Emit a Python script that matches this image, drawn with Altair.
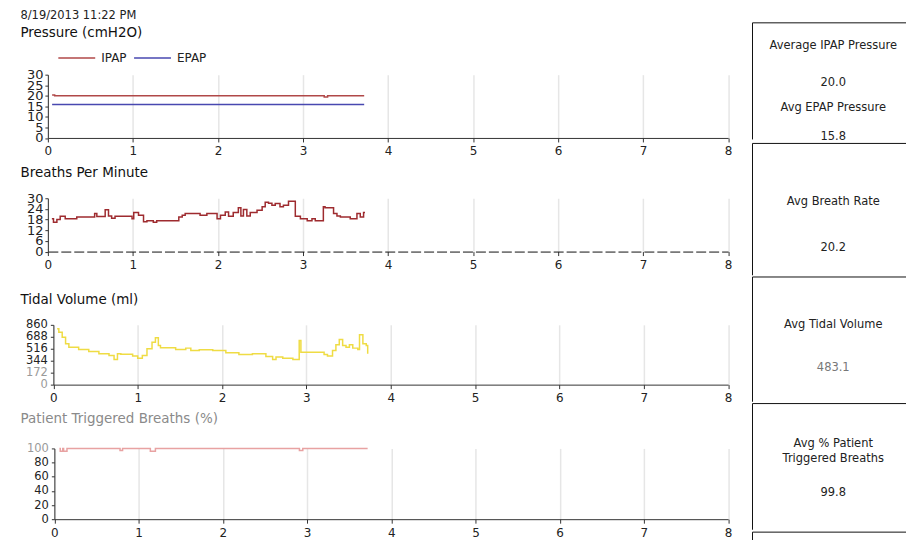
import altair as alt
import pandas as pd

FONT = "DejaVu Sans"

date_text = "8/19/2013 11:22 PM"
x_ticks = [0, 1, 2, 3, 4, 5, 6, 7, 8]

# Pressure (cmH2O)
ipap_t = [0.05, 0.08, 3.25, 3.29, 3.72]
ipap_v = [20.4, 20.0, 19.4, 20.0, 20.0]
epap_t = [0.05, 3.72]
epap_v = [15.8, 15.8]
pressure_ticks = [0, 5, 10, 15, 20, 25, 30]
series_names = ["IPAP", "EPAP"]

# Breaths per minute
breath_t = [0.047, 0.066, 0.106, 0.145, 0.204, 0.34, 0.55, 0.576, 0.674, 0.713,
            0.75, 0.79, 0.99, 1.01, 1.066, 1.125, 1.165, 1.24, 1.28, 1.54,
            1.58, 1.615, 1.79, 1.87, 1.99, 2.03, 2.086, 2.125, 2.18, 2.24,
            2.27, 2.30, 2.34, 2.38, 2.46, 2.52, 2.556, 2.595, 2.635, 2.674,
            2.73, 2.77, 2.83, 2.91, 2.97, 3.05, 3.106, 3.145, 3.24, 3.26,
            3.36, 3.40, 3.44, 3.556, 3.635, 3.674, 3.713, 3.73]
breath_v = [18.4, 16.5, 18.0, 19.9, 18.4, 19.5, 21.4, 19.8, 23.5, 20.0,
            18.7, 19.9, 18.4, 22.0, 20.5, 16.8, 17.4, 16.5, 17.4, 19.5,
            20.5, 21.4, 20.5, 21.4, 18.4, 20.5, 22.2, 19.9, 22.0, 24.6,
            20.0, 23.7, 20.0, 22.0, 23.3, 25.2, 27.8, 27.2, 26.0, 27.0,
            25.2, 26.0, 28.3, 19.9, 18.4, 17.4, 18.4, 17.4, 25.2, 24.6,
            21.4, 20.0, 19.5, 18.4, 21.4, 19.5, 22.0, 22.0]
breath_ticks = [0, 6, 12, 18, 24, 30]

# Tidal volume (ml)
tidal_t = [0.045, 0.065, 0.105, 0.145, 0.184, 0.30, 0.42, 0.54, 0.66, 0.72,
           0.76, 0.80, 0.94, 1.0, 1.055, 1.11, 1.17, 1.21, 1.245, 1.27,
           1.45, 1.57, 1.63, 1.73, 1.89, 2.045, 2.20, 2.36, 2.52, 2.60,
           2.64, 2.72, 2.84, 2.915, 2.935, 3.21, 3.25, 3.31, 3.35, 3.39,
           3.43, 3.47, 3.51, 3.55, 3.61, 3.63, 3.67, 3.71, 3.727]
tidal_v = [802, 754, 682, 587, 539, 506, 477, 444, 420, 363,
           444, 438, 410, 381, 420, 516, 611, 673, 563, 530,
           506, 525, 492, 500, 492, 458, 434, 444, 405, 363,
           398, 381, 363, 635, 467, 434, 410, 492, 573, 649,
           563, 539, 573, 525, 506, 716, 587, 563, 444]
tidal_ticks = [0, 172, 344, 516, 688, 860]

# Patient triggered breaths (%)
trig_t = [0.06, 0.07, 0.10, 0.11, 0.15, 0.78, 0.81, 1.14, 1.20, 2.91, 2.95, 3.72]
trig_v = [100, 96, 100, 96, 100, 97, 100, 96, 100, 97, 100, 100]
trig_ticks = [0, 20, 40, 60, 80, 100]

# Summary panel
summary_labels = [["Average IPAP Pressure", "Avg EPAP Pressure"],
                  ["Avg Breath Rate"],
                  ["Avg Tidal Volume"],
                  ["Avg % Patient", "Triggered Breaths"]]
summary_values = [["20.0", "15.8"], ["20.2"], ["483.1"], ["99.8"]]

AXIS_C = "#333333"
LABEL_C = "#222222"
PLOT_W = 682.5
TITLE_DX = -27.5


def xaxis(dash=None, color=AXIS_C):
    kw = dict(values=x_ticks, grid=True, gridColor="#e6e6e6", gridWidth=1.5,
              tickSize=4, tickColor=AXIS_C, domainColor=color, domainWidth=1,
              labelFontSize=12, labelColor=LABEL_C, labelPadding=4,
              labelFlush=False, labelFont=FONT, title=None)
    if dash:
        kw["domainDash"] = dash
    return alt.Axis(**kw)


def yaxis(vals, fs, pad=2, gray_test=None, offset=0):
    color = LABEL_C
    if gray_test:
        color = {"condition": {"test": gray_test, "value": "#9a9a9a"}, "value": LABEL_C}
    return alt.Axis(values=vals, grid=False, tickSize=3, tickColor=AXIS_C,
                    domainColor=AXIS_C, labelFontSize=fs, labelColor=color,
                    labelPadding=pad, labelOverlap=False, labelFont=FONT, title=None,
                    offset=offset)


def xscale(inset=0):
    return alt.Scale(domain=[0, 8], nice=False, range=[inset, PLOT_W])


def title(text, offset, color="#111111", **kw):
    return alt.TitleParams(text=text, anchor="start", frame="group", dx=TITLE_DX,
                           fontSize=13.5, fontWeight="normal", color=color, font=FONT,
                           offset=offset, **kw)


# ---- Date header
header = alt.Chart(pd.DataFrame({"t": [date_text]})).mark_text(
    align="left", baseline="top", fontSize=11.5, font=FONT, color=LABEL_C
).encode(text="t:N", x=alt.value(TITLE_DX), y=alt.value(0)).properties(width=PLOT_W, height=7.3)

# ---- Pressure
pdf = pd.DataFrame({
    "h": ipap_t + epap_t,
    "v": ipap_v + epap_v,
    "s": [series_names[0]] * len(ipap_t) + [series_names[1]] * len(epap_t),
})
p1 = alt.Chart(pdf).mark_line(strokeWidth=1.5, interpolate="step-after").encode(
    x=alt.X("h:Q", scale=xscale(), axis=xaxis()),
    y=alt.Y("v:Q", scale=alt.Scale(domain=[0, 30], nice=False), axis=yaxis(pressure_ticks, 13)),
    color=alt.Color("s:N", scale=alt.Scale(domain=series_names, range=["#b04848", "#4848b0"]),
                    legend=alt.Legend(title=None, orient="none", legendX=9.5, legendY=28.5,
                                      direction="horizontal", symbolType="stroke",
                                      symbolSize=1369, symbolStrokeWidth=1.5,
                                      labelFontSize=12, labelFont=FONT, labelColor=LABEL_C,
                                      labelOffset=5, columnPadding=4, padding=0)),
).properties(width=PLOT_W, height=63.5, title=title("Pressure (cmH2O)", 29.5))

# ---- Breaths
bdf = pd.DataFrame({"h": breath_t, "v": breath_v})
p2 = alt.Chart(bdf).mark_line(strokeWidth=1.5, interpolate="step-after", color="#9e2b2f").encode(
    x=alt.X("h:Q", scale=xscale(), axis=xaxis(dash=[10, 3], color="#111111")),
    y=alt.Y("v:Q", scale=alt.Scale(domain=[0, 30], nice=False), axis=yaxis(breath_ticks, 13)),
).properties(width=PLOT_W, height=53.5,
             title=title(["", "Breaths Per Minute"], 13, lineHeight=3.8))

# ---- Tidal volume
tdf = pd.DataFrame({"h": tidal_t, "v": tidal_v})
p3 = alt.Chart(tdf).mark_line(strokeWidth=1.5, interpolate="step-after", color="#efdc44").encode(
    x=alt.X("h:Q", scale=xscale(5.5), axis=xaxis()),
    y=alt.Y("v:Q", scale=alt.Scale(domain=[0, 860], nice=False),
            axis=yaxis(tidal_ticks, 11.5, pad=3, gray_test="datum.value <= 172", offset=-5.5)),
).properties(width=PLOT_W, height=60,
             title=title(["", "Tidal Volume (ml)"], 12.5, lineHeight=17.3))

# ---- Patient triggered
ptdf = pd.DataFrame({"h": trig_t, "v": trig_v})
p4 = alt.Chart(ptdf).mark_line(strokeWidth=1.5, interpolate="step-after", color="#e8a2a2").encode(
    x=alt.X("h:Q", scale=xscale(6.5), axis=xaxis()),
    y=alt.Y("v:Q", scale=alt.Scale(domain=[0, 100], nice=False),
            axis=yaxis(trig_ticks, 11.5, pad=3, gray_test="datum.value >= 100", offset=-6.5)),
).properties(width=PLOT_W, height=71,
             title=title(["", "Patient Triggered Breaths (%)"], 17, color="#8a8a8a",
                         lineHeight=4.1))

left = alt.concat(header, p1, p2, p3, p4, columns=1, spacing=4)

# ---- Summary boxes
BOX_W = 154
TEXT_X = 81


def box(h, items):
    base = alt.Chart(pd.DataFrame({"k": [0]}))
    top = base.mark_rule(color="#111111", strokeWidth=1).encode(
        x=alt.value(0), x2=alt.value(BOX_W), y=alt.value(0))
    side = base.mark_rule(color="#111111", strokeWidth=1).encode(
        x=alt.value(0), y=alt.value(0), y2=alt.value(h))
    layers = [top, side]
    for txt, yy, col in items:
        layers.append(
            alt.Chart(pd.DataFrame({"t": [txt]})).mark_text(
                fontSize=11.5, font=FONT, color=col, align="center", baseline="middle"
            ).encode(text="t:N", x=alt.value(TEXT_X), y=alt.value(yy))
        )
    return alt.layer(*layers).properties(width=BOX_W, height=h)


spacer = alt.Chart(pd.DataFrame({"t": [""]})).mark_text().encode(
    text="t:N", x=alt.value(0), y=alt.value(5)).properties(width=BOX_W, height=11.7)

b1 = box(117, [(summary_labels[0][0], 23, LABEL_C), (summary_values[0][0], 60.5, LABEL_C),
               (summary_labels[0][1], 85.5, LABEL_C), (summary_values[0][1], 114.5, LABEL_C)])
b2 = box(132.3, [(summary_labels[1][0], 59, LABEL_C), (summary_values[1][0], 104.7, LABEL_C)])
b3 = box(125.2, [(summary_labels[2][0], 48, LABEL_C), (summary_values[2][0], 91.4, "#777777")])
b4 = box(126.6, [(summary_labels[3][0], 40.3, LABEL_C), (summary_labels[3][1], 55.3, LABEL_C),
                 (summary_values[3][0], 89.7, LABEL_C)])
b5 = box(8, [])

right = alt.concat(spacer, b1, b2, b3, b4, b5, columns=1, spacing=0)

chart = alt.concat(left, right, columns=2, spacing=19).properties(
    padding={"left": 12, "top": 0, "right": 0, "bottom": -2}
).configure(font=FONT).configure_view(strokeWidth=0)

chart.save("out.html", embed_options={"renderer": "svg", "actions": False})
